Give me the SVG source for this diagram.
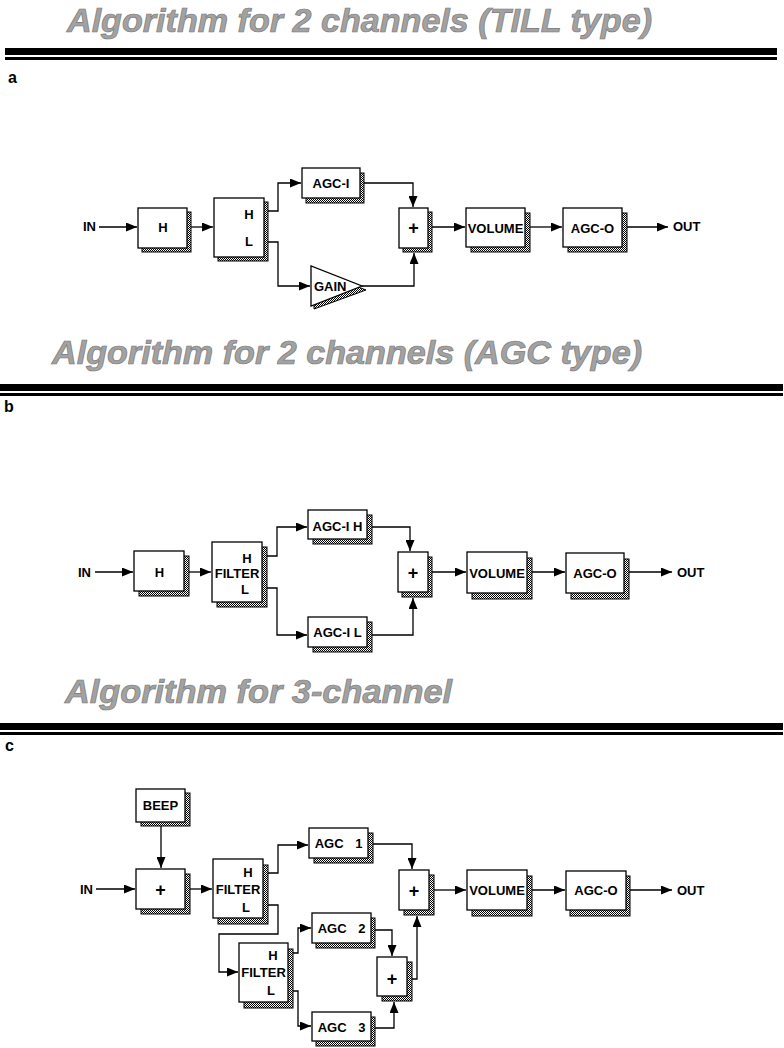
<svg xmlns="http://www.w3.org/2000/svg" width="784" height="1048" viewBox="0 0 784 1048">
<defs>
<pattern id="dither" width="2" height="2" patternUnits="userSpaceOnUse">
<rect width="2" height="2" fill="#ffffff"/>
<rect x="0" y="0" width="1" height="1" fill="#000"/>
<rect x="1" y="1" width="1" height="1" fill="#000"/>
</pattern>
<marker id="arr" markerWidth="11" markerHeight="9" refX="11" refY="4.5" orient="auto" markerUnits="userSpaceOnUse">
<path d="M0,0 L11,4.5 L0,9 Z" fill="#000"/>
</marker>
<style>
.box{fill:#fff;stroke:#000;stroke-width:1.3}
.sh{fill:url(#dither);stroke:#000;stroke-width:1}
.t{font-family:"Liberation Sans",Arial,Helvetica,sans-serif;font-weight:bold;font-size:13px;fill:#000}
.p{font-size:18px}
.c{text-anchor:middle}
.w{word-spacing:8px}
.head{font-family:"Liberation Sans",Arial,Helvetica,sans-serif;font-weight:bold;font-style:italic;font-size:33px;fill:#a2a2a2;stroke:#7a7a7a;stroke-width:0.7}
.lbl{font-family:"Liberation Sans",Arial,Helvetica,sans-serif;font-weight:bold;font-size:16px;fill:#000}
.cn{fill:none;stroke:#000;stroke-width:1.3}
.ar{marker-end:url(#arr)}
</style>
</defs>
<rect width="784" height="1048" fill="#fff"/>

<!-- Headings and rules -->
<g id="heading-a">
<text class="head" x="67" y="32" textLength="585" lengthAdjust="spacingAndGlyphs">Algorithm for 2 channels (TILL type)</text>
<rect x="5" y="48" width="772" height="7" fill="#000"/>
<rect x="5" y="57" width="772" height="3" fill="#000"/>
<text class="lbl" x="8" y="83">a</text>
</g>
<g id="heading-b">
<text class="head" x="52" y="364" textLength="590" lengthAdjust="spacingAndGlyphs">Algorithm for 2 channels (AGC type)</text>
<rect x="0" y="384" width="783" height="7" fill="#000"/>
<rect x="0" y="393" width="783" height="3" fill="#000"/>
<text class="lbl" x="4" y="412">b</text>
</g>
<g id="heading-c">
<text class="head" x="65" y="703" textLength="387" lengthAdjust="spacingAndGlyphs">Algorithm for 3-channel</text>
<rect x="0" y="723" width="783" height="7" fill="#000"/>
<rect x="0" y="732" width="783" height="3" fill="#000"/>
<text class="lbl" x="5" y="751">c</text>
</g>

<!-- ===== Diagram a ===== -->
<g id="connectors-a">
<path class="cn ar" d="M99 227 H137"/>
<path class="cn ar" d="M191 227 H213"/>
<path class="cn ar" d="M268 211 H278 V183 H301"/>
<path class="cn ar" d="M268 242 H278 V286 H310"/>
<path class="cn ar" d="M364 183 H413 V207"/>
<path class="cn ar" d="M362 286 H414 V253"/>
<path class="cn ar" d="M432 227 H465"/>
<path class="cn ar" d="M530 227 H562"/>
<path class="cn ar" d="M627 227 H668"/>
</g>
<g id="a-in"><text class="t" x="83" y="231">IN</text></g>
<g id="a-h"><rect class="sh" x="142" y="212" width="49" height="40"/><rect class="box" x="138" y="208" width="49" height="40"/><text class="t c" x="163" y="232">H</text></g>
<g id="a-hl"><rect class="sh" x="218" y="202" width="50" height="59"/><rect class="box" x="214" y="198" width="50" height="59"/><text class="t c" x="249" y="219">H</text><text class="t c" x="249" y="246">L</text></g>
<g id="a-agci"><rect class="sh" x="306" y="173" width="58" height="30"/><rect class="box" x="302" y="168" width="58" height="30"/><text class="t c" x="331" y="188">AGC-I</text></g>
<g id="a-gain"><polygon class="sh" points="314,270 314,309 366,290"/><polygon class="box" points="311,266 311,306 362,286"/><text class="t" x="314" y="291">GAIN</text></g>
<g id="a-sum"><rect class="sh" x="403" y="212" width="29" height="40"/><rect class="box" x="399" y="208" width="29" height="40"/><text class="t c p" x="413.5" y="234">+</text></g>
<g id="a-volume"><rect class="sh" x="471" y="213" width="59" height="39"/><rect class="box" x="466" y="208" width="59" height="39"/><text class="t c" x="495.5" y="233">VOLUME</text></g>
<g id="a-agco"><rect class="sh" x="568" y="213" width="59" height="39"/><rect class="box" x="563" y="208" width="59" height="39"/><text class="t c" x="592.5" y="233">AGC-O</text></g>
<g id="a-out"><text class="t" x="673" y="231">OUT</text></g>

<!-- ===== Diagram b ===== -->
<g id="connectors-b">
<path class="cn ar" d="M95 572 H133"/>
<path class="cn ar" d="M189 572 H211"/>
<path class="cn ar" d="M267 556 H277 V527 H307"/>
<path class="cn ar" d="M267 588 H277 V635 H307"/>
<path class="cn ar" d="M372 527 H410 V551"/>
<path class="cn ar" d="M372 635 H413 V598"/>
<path class="cn ar" d="M432 572 H466"/>
<path class="cn ar" d="M532 572 H565"/>
<path class="cn ar" d="M629 572 H672"/>
</g>
<g id="b-in"><text class="t" x="78" y="577">IN</text></g>
<g id="b-h"><rect class="sh" x="139" y="556" width="50" height="40"/><rect class="box" x="134" y="551" width="50" height="40"/><text class="t c" x="159.5" y="577">H</text></g>
<g id="b-filter"><rect class="sh" x="217" y="547" width="50" height="60"/><rect class="box" x="212" y="542" width="50" height="60"/><text class="t c" x="247" y="563">H</text><text class="t c" x="237" y="578">FILTER</text><text class="t c" x="245" y="594">L</text></g>
<g id="b-agcih"><rect class="sh" x="313" y="515" width="59" height="29"/><rect class="box" x="308" y="510" width="59" height="29"/><text class="t c" x="337.5" y="531">AGC-I H</text></g>
<g id="b-agcil"><rect class="sh" x="313" y="622" width="59" height="30"/><rect class="box" x="308" y="617" width="59" height="30"/><text class="t c" x="337.5" y="637">AGC-I L</text></g>
<g id="b-sum"><rect class="sh" x="402" y="557" width="30" height="40"/><rect class="box" x="398" y="552" width="30" height="40"/><text class="t c p" x="413" y="579">+</text></g>
<g id="b-volume"><rect class="sh" x="472" y="558" width="60" height="41"/><rect class="box" x="467" y="552" width="60" height="41"/><text class="t c" x="497" y="578">VOLUME</text></g>
<g id="b-agco"><rect class="sh" x="571" y="559" width="58" height="40"/><rect class="box" x="566" y="553" width="58" height="40"/><text class="t c" x="595" y="578">AGC-O</text></g>
<g id="b-out"><text class="t" x="677" y="577">OUT</text></g>

<!-- ===== Diagram c ===== -->
<g id="connectors-c">
<path class="cn ar" d="M161 826 V868"/>
<path class="cn ar" d="M96 889 H135"/>
<path class="cn ar" d="M190 889 H212"/>
<path class="cn ar" d="M268 873 H278 V845 H308"/>
<path class="cn ar" d="M268 905 H278 V934 H219 V972 H238"/>
<path class="cn ar" d="M293 953 H298 V928 H311"/>
<path class="cn ar" d="M293 991 H298 V1026 H311"/>
<path class="cn ar" d="M373 844 H412 V869"/>
<path class="cn ar" d="M375 930 H392 V956"/>
<path class="cn ar" d="M375 1028 H394 V1002"/>
<path class="cn ar" d="M412 979 H417 V916"/>
<path class="cn ar" d="M434 890 H466"/>
<path class="cn ar" d="M532 890 H565"/>
<path class="cn ar" d="M630 890 H672"/>
</g>
<g id="c-beep"><rect class="sh" x="141" y="793" width="49" height="33"/><rect class="box" x="136" y="789" width="49" height="33"/><text class="t c" x="160.5" y="810">BEEP</text></g>
<g id="c-in"><text class="t" x="80" y="894">IN</text></g>
<g id="c-sum1"><rect class="sh" x="141" y="874" width="49" height="40"/><rect class="box" x="136" y="869" width="49" height="40"/><text class="t c p" x="160.5" y="896">+</text></g>
<g id="c-filter1"><rect class="sh" x="218" y="865" width="50" height="59"/><rect class="box" x="213" y="859" width="50" height="59"/><text class="t c" x="248" y="877">H</text><text class="t c" x="238" y="894">FILTER</text><text class="t c" x="246" y="912">L</text></g>
<g id="c-filter2"><rect class="sh" x="244" y="949" width="49" height="59"/><rect class="box" x="239" y="943" width="49" height="59"/><text class="t c" x="273" y="960">H</text><text class="t c" x="263.5" y="977">FILTER</text><text class="t c" x="271" y="995">L</text></g>
<g id="c-agc1"><rect class="sh" x="314" y="833" width="59" height="30"/><rect class="box" x="309" y="828" width="59" height="30"/><text class="t c w" x="338.5" y="848">AGC 1</text></g>
<g id="c-agc2"><rect class="sh" x="316" y="918" width="59" height="30"/><rect class="box" x="312" y="913" width="59" height="30"/><text class="t c w" x="341.5" y="933">AGC 2</text></g>
<g id="c-agc3"><rect class="sh" x="316" y="1017" width="59" height="29"/><rect class="box" x="312" y="1012" width="59" height="29"/><text class="t c w" x="341.5" y="1032">AGC 3</text></g>
<g id="c-sum2"><rect class="sh" x="382" y="962" width="30" height="39"/><rect class="box" x="377" y="957" width="30" height="39"/><text class="t c p" x="392" y="985">+</text></g>
<g id="c-sum3"><rect class="sh" x="404" y="875" width="30" height="40"/><rect class="box" x="399" y="870" width="30" height="40"/><text class="t c p" x="414" y="897">+</text></g>
<g id="c-volume"><rect class="sh" x="472" y="876" width="60" height="40"/><rect class="box" x="467" y="870" width="60" height="40"/><text class="t c" x="497" y="895">VOLUME</text></g>
<g id="c-agco"><rect class="sh" x="570" y="876" width="60" height="40"/><rect class="box" x="566" y="871" width="60" height="39"/><text class="t c" x="596" y="895">AGC-O</text></g>
<g id="c-out"><text class="t" x="677" y="895">OUT</text></g>
</svg>
